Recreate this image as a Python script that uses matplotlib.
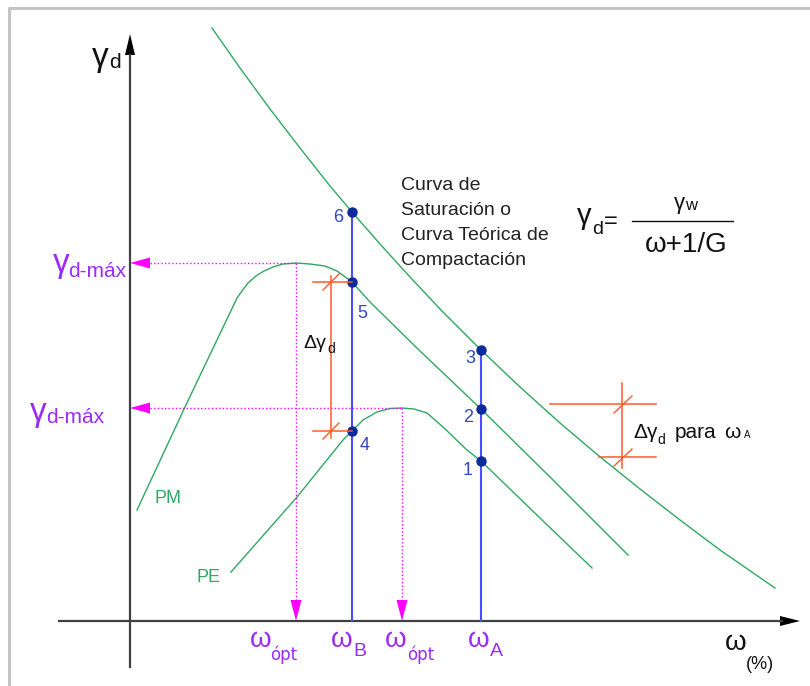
import matplotlib
matplotlib.use("Agg")
import matplotlib.pyplot as plt
from matplotlib.patches import Polygon

plt.rcParams['font.family'] = ['Liberation Sans', 'DejaVu Sans']

# Saturation curve (zero air voids)
w_sat = [82, 110, 140, 170, 200, 222, 250, 280, 310, 351, 390, 430, 469, 510, 550, 590, 645]
g_sat = [593, 553, 512, 473, 435, 409, 377, 344, 312, 271, 234, 198, 165, 132, 101, 71, 33]

# Modified Proctor compaction curve (PM)
w_pm = [7, 55, 107, 112, 118, 126, 134, 143, 153, 166, 180, 195, 207, 222, 240, 290, 351, 420, 498]
g_pm = [111, 214, 323, 330, 338, 345, 350, 354, 357, 358, 357, 355, 350, 339, 319, 270, 212, 144, 66]

# Standard Proctor compaction curve (PE)
w_pe = [101, 167, 213, 222, 233, 247, 260, 272, 284, 297, 313, 337, 351, 410, 462]
g_pe = [49, 124, 181, 190, 201, 209, 212.5, 213, 212, 208, 194, 171, 160, 103, 53]

# Optimum moisture contents and maximum dry densities
w_opt = [166, 272]
g_max = [358, 213]

# Moisture contents wB and wA and the points read on each curve
w_B, w_A = 222, 351
pts_w = [w_A, w_A, w_A, w_B, w_B, w_B]
pts_g = [160, 212, 271, 190, 339, 409]
pts_lab = ['1', '2', '3', '4', '5', '6']

GREEN = '#2fa862'
BLUE = '#4b4bff'
NAVY = '#0b2a9c'
NUM = '#3345c0'
ORANGE = '#ff5a28'
MAGENTA = '#ff00ff'
VIOLET = '#9a2cf5'
AXIS = '#404040'
INK = '#111111'

fig = plt.figure(figsize=(8.1, 6.86), dpi=100)
ax = fig.add_axes([0, 0, 1, 1])
ax.set_xlim(-130, 680)
ax.set_ylim(-65, 621)
ax.axis('off')

# frame
ax.plot([-121, -121, 680], [-65, 613, 613], color='#c4c4c4', lw=2.2, solid_capstyle='butt')

# axes with arrowheads
ax.plot([0, 0], [-46, 566], color=AXIS, lw=1.6)
ax.plot([-71, 652], [0, 0], color=AXIS, lw=1.6)
ax.add_patch(Polygon([[0, 587], [-5, 566], [5, 566]], closed=True, color='black', lw=0))
ax.add_patch(Polygon([[670, 0], [650, 5], [650, -5]], closed=True, color='black', lw=0))

# curves
for w, g in [(w_sat, g_sat), (w_pm, g_pm), (w_pe, g_pe)]:
    ax.plot(w, g, color=GREEN, lw=1.0)

# projections of the maxima
for wo, gm in zip(w_opt, g_max):
    ax.plot([20, wo], [gm, gm], color=MAGENTA, lw=1.0, ls=(0, (1, 1.6)))
    ax.plot([wo, wo], [gm, 20], color=MAGENTA, lw=1.0, ls=(0, (1, 1.6)))
    ax.add_patch(Polygon([[0, gm], [20, gm + 5.5], [20, gm - 5.5]], closed=True,
                         color=MAGENTA, lw=0))
    ax.add_patch(Polygon([[wo, 0], [wo - 5.5, 21], [wo + 5.5, 21]], closed=True,
                         color=MAGENTA, lw=0))

# verticals at wB and wA
ax.plot([w_B, w_B], [0, pts_g[5]], color=BLUE, lw=1.5)
ax.plot([w_A, w_A], [0, pts_g[2]], color=BLUE, lw=1.5)
ax.plot(pts_w, pts_g, 'o', color=NAVY, ms=6.5, mec=NAVY)

num_pos = [(333, 146), (333, 199), (335, 258), (230, 171), (227, 303), (203, 399)]
for (x, y), s in zip(num_pos, pts_lab):
    ax.text(x, y, s, color=NUM, fontsize=13, ha='left', va='baseline')

# delta gamma between PM and PE at wB
ax.plot([201, 201], [183, 345], color=ORANGE, lw=1.1)
ax.plot([183, w_B], [pts_g[4], pts_g[4]], color=ORANGE, lw=1.1)
ax.plot([183, w_B], [pts_g[3], pts_g[3]], color=ORANGE, lw=1.1)
ax.plot([193, 209], [331, 347], color=ORANGE, lw=1.0)
ax.plot([193, 209], [182, 198], color=ORANGE, lw=1.0)
ax.text(173, 273, 'Δγ', fontsize=14, ha='left', va='baseline', color=INK)
ax.text(197, 268, 'd', fontsize=10, ha='left', va='baseline', color=INK)

# delta gamma for wA
ax.plot([492, 492], [153, 238], color=ORANGE, lw=1.1)
ax.plot([420, 526], [217, 217], color=ORANGE, lw=1.1)
ax.plot([469, 526], [164, 164], color=ORANGE, lw=1.1)
ax.plot([484, 502], [208, 225], color=ORANGE, lw=1.0)
ax.plot([484, 502], [155, 172], color=ORANGE, lw=1.0)
ax.text(503, 183, 'Δγ', fontsize=15, ha='left', va='baseline', color=INK)
ax.text(527, 177, 'd', fontsize=10, ha='left', va='baseline', color=INK)
ax.text(545, 183, 'para', fontsize=15, ha='left', va='baseline', color=INK)
ax.text(594, 183, 'ω', fontsize=15, ha='left', va='baseline', color=INK)
ax.text(614, 183, 'A', fontsize=7, ha='left', va='baseline', color=INK)

# curve labels
ax.text(25, 118, 'PM', fontsize=13, color=GREEN, ha='left', va='baseline')
ax.text(66, 39, 'PE', fontsize=13, color=GREEN, ha='left', va='baseline')

# saturation curve note
for y, s in zip([431, 406, 381, 356],
                ['Curva de', 'Saturación o', 'Curva Teórica de', 'Compactación']):
    ax.text(271, y, s, fontsize=14, color='#222222', ha='left', va='baseline')

# formula
ax.text(447, 397, 'γ', fontsize=21, ha='left', va='baseline', color=INK)
ax.text(462, 387, 'd', fontsize=14, ha='left', va='baseline', color=INK)
ax.text(474, 393, '=', fontsize=17, ha='left', va='baseline', color=INK)
ax.text(544, 412, 'γ', fontsize=16, ha='left', va='baseline', color=INK)
ax.text(555, 411, 'w', fontsize=12, ha='left', va='baseline', color=INK)
ax.plot([502, 603], [400, 400], color=INK, lw=1.0)
ax.text(556, 369, 'ω+1/G', fontsize=20, ha='center', va='baseline', color=INK)

# axis titles
ax.text(-38, 555, 'γ', fontsize=24, ha='left', va='baseline', color=INK)
ax.text(-21, 553, 'd', fontsize=15, ha='left', va='baseline', color=INK)
ax.text(595, -29, 'ω', fontsize=20, ha='left', va='baseline', color=INK)
ax.text(616, -48, '(%)', fontsize=13, ha='left', va='baseline', color=INK)

# maximum dry density labels
for xg, yg, xd, yd in [(-77, 349, -62, 344), (-100, 200, -84, 198)]:
    ax.text(xg, yg, 'γ', fontsize=24, color=VIOLET, ha='left', va='baseline')
    ax.text(xd, yd, 'd-máx', fontsize=15, color=VIOLET, ha='left', va='baseline')

# moisture content labels on the x axis
for xw, xs, sub, fs, ys, fam in [(120, 140, 'ópt', 12, -39, 'DejaVu Sans'),
                                 (201, 223, 'B', 14, -35, 'Liberation Sans'),
                                 (255, 277, 'ópt', 12, -39, 'DejaVu Sans'),
                                 (338, 360, 'A', 14, -35, 'Liberation Sans')]:
    ax.text(xw, -26, 'ω', fontsize=20, color=VIOLET, ha='left', va='baseline')
    ax.text(xs, ys, sub, fontsize=fs, color=VIOLET, ha='left', va='baseline',
            family=[fam, 'DejaVu Sans'])

fig.savefig('out.png', dpi=100, facecolor='white')
